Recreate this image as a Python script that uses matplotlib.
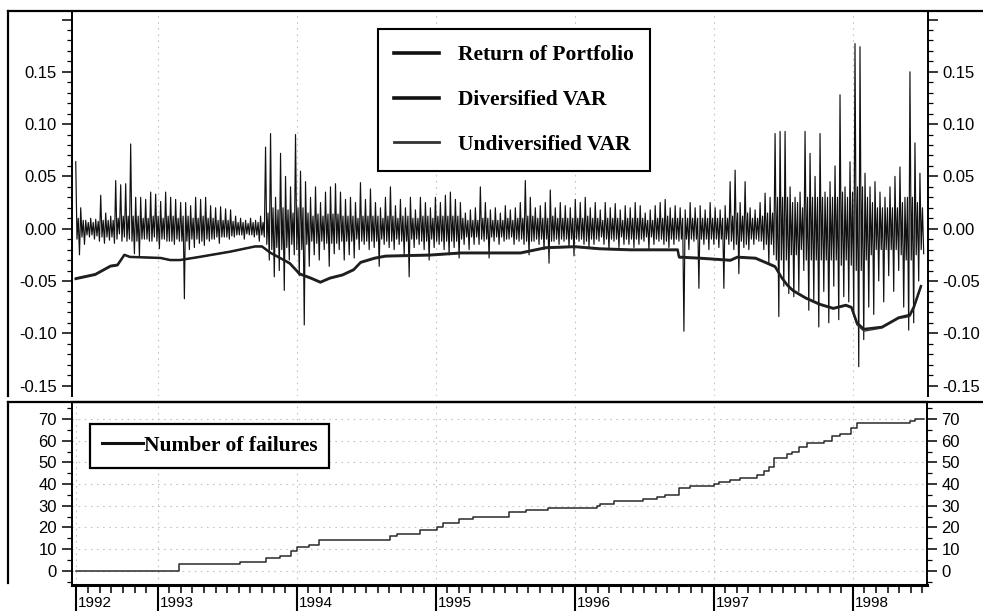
import matplotlib.pyplot as plt
import numpy as np
from matplotlib.lines import Line2D
from matplotlib.transforms import ScaledTranslation

# ---- data ----
# returns: high / low spike of the daily return band in ~5px columns (June 1992 - July 1998)
ret_high = [0.064, 0.020, 0.008, 0.010, 0.009, 0.032, 0.015, 0.012, 0.046, 0.042,
            0.043, 0.081, 0.030, 0.030, 0.028, 0.035, 0.033, 0.026, 0.035, 0.030,
            0.028, 0.025, 0.025, 0.022, 0.030, 0.028, 0.030, 0.022, 0.020, 0.021,
            0.019, 0.018, 0.012, 0.010, 0.008, 0.010, 0.008, 0.012, 0.078, 0.091,
            0.030, 0.072, 0.050, 0.040, 0.090, 0.055, 0.045, 0.030, 0.040, 0.025,
            0.035, 0.040, 0.043, 0.035, 0.028, 0.030, 0.025, 0.044, 0.028, 0.038,
            0.025, 0.020, 0.030, 0.040, 0.022, 0.028, 0.020, 0.030, 0.018, 0.030,
            0.025, 0.020, 0.030, 0.025, 0.032, 0.035, 0.028, 0.025, 0.015, 0.018,
            0.020, 0.040, 0.025, 0.018, 0.020, 0.015, 0.022, 0.018, 0.020, 0.025,
            0.046, 0.030, 0.020, 0.022, 0.025, 0.037, 0.020, 0.025, 0.022, 0.020,
            0.028, 0.025, 0.030, 0.020, 0.025, 0.018, 0.025, 0.020, 0.024, 0.018,
            0.022, 0.020, 0.025, 0.022, 0.015, 0.018, 0.022, 0.025, 0.028, 0.020,
            0.022, 0.020, 0.018, 0.025, 0.020, 0.022, 0.018, 0.025, 0.020, 0.018,
            0.022, 0.045, 0.056, 0.025, 0.045, 0.020, 0.018, 0.025, 0.034, 0.030,
            0.091, 0.093, 0.093, 0.040, 0.030, 0.035, 0.093, 0.072, 0.050, 0.091,
            0.035, 0.045, 0.060, 0.128, 0.040, 0.064, 0.177, 0.174, 0.053, 0.040,
            0.045, 0.035, 0.030, 0.040, 0.050, 0.059, 0.030, 0.150, 0.082, 0.053]
ret_low = [-0.025, -0.015, -0.008, -0.010, -0.012, -0.014, -0.011, -0.014, -0.005, -0.008,
           -0.010, -0.024, -0.027, -0.010, -0.012, -0.008, -0.019, -0.010, -0.012, -0.015,
           -0.012, -0.067, -0.020, -0.018, -0.014, -0.016, -0.012, -0.010, -0.014, -0.008,
           -0.010, -0.008, -0.006, -0.010, -0.006, -0.008, -0.012, -0.008, -0.030, -0.046,
           -0.040, -0.059, -0.030, -0.025, -0.045, -0.092, -0.036, -0.025, -0.030, -0.020,
           -0.036, -0.024, -0.020, -0.030, -0.025, -0.028, -0.020, -0.015, -0.020, -0.018,
           -0.036, -0.015, -0.018, -0.020, -0.015, -0.025, -0.046, -0.018, -0.015, -0.020,
           -0.030, -0.018, -0.015, -0.020, -0.025, -0.018, -0.028, -0.015, -0.020, -0.015,
           -0.015, -0.012, -0.028, -0.012, -0.015, -0.012, -0.010, -0.015, -0.012, -0.015,
           -0.025, -0.012, -0.015, -0.020, -0.033, -0.012, -0.015, -0.012, -0.018, -0.026,
           -0.012, -0.015, -0.018, -0.015, -0.012, -0.015, -0.020, -0.012, -0.018, -0.015,
           -0.015, -0.018, -0.015, -0.012, -0.020, -0.015, -0.012, -0.015, -0.018, -0.015,
           -0.012, -0.098, -0.020, -0.012, -0.057, -0.015, -0.020, -0.015, -0.018, -0.057,
           -0.015, -0.020, -0.043, -0.018, -0.020, -0.015, -0.012, -0.020, -0.033, -0.025,
           -0.084, -0.055, -0.062, -0.065, -0.060, -0.040, -0.078, -0.068, -0.094, -0.060,
           -0.090, -0.055, -0.087, -0.065, -0.070, -0.080, -0.132, -0.106, -0.075, -0.082,
           -0.050, -0.070, -0.045, -0.060, -0.040, -0.075, -0.097, -0.090, -0.050, -0.024]
# half-width of the dense dark core of the band, same columns
ret_core = [0.010, 0.008, 0.006, 0.006, 0.007, 0.008, 0.008, 0.008, 0.010, 0.012,
            0.012, 0.012, 0.012, 0.010, 0.010, 0.012, 0.012, 0.010, 0.012, 0.012,
            0.010, 0.012, 0.012, 0.010, 0.010, 0.012, 0.010, 0.010, 0.008, 0.008,
            0.008, 0.007, 0.006, 0.006, 0.005, 0.006, 0.006, 0.006, 0.015, 0.020,
            0.018, 0.020, 0.018, 0.015, 0.020, 0.020, 0.015, 0.012, 0.014, 0.012,
            0.014, 0.014, 0.014, 0.012, 0.012, 0.012, 0.010, 0.012, 0.012, 0.012,
            0.012, 0.010, 0.012, 0.012, 0.010, 0.012, 0.012, 0.010, 0.010, 0.012,
            0.012, 0.010, 0.012, 0.012, 0.012, 0.012, 0.012, 0.010, 0.008, 0.008,
            0.008, 0.010, 0.010, 0.008, 0.008, 0.008, 0.010, 0.008, 0.010, 0.010,
            0.012, 0.012, 0.010, 0.010, 0.010, 0.012, 0.010, 0.010, 0.010, 0.010,
            0.010, 0.010, 0.012, 0.010, 0.010, 0.008, 0.010, 0.010, 0.010, 0.008,
            0.010, 0.010, 0.010, 0.010, 0.008, 0.008, 0.010, 0.010, 0.012, 0.010,
            0.010, 0.010, 0.010, 0.010, 0.010, 0.010, 0.010, 0.010, 0.010, 0.010,
            0.010, 0.012, 0.015, 0.012, 0.015, 0.010, 0.010, 0.012, 0.015, 0.015,
            0.030, 0.030, 0.030, 0.025, 0.025, 0.020, 0.030, 0.030, 0.030, 0.030,
            0.030, 0.030, 0.030, 0.035, 0.030, 0.035, 0.040, 0.040, 0.030, 0.025,
            0.020, 0.020, 0.020, 0.020, 0.020, 0.025, 0.030, 0.030, 0.025, 0.020]
ret_start, ret_end = 1992.41, 1998.51

# VaR lines (decimal year, value)
var_years = [1992.41, 1992.55, 1992.66, 1992.71, 1992.76, 1992.80, 1993.02, 1993.09,
             1993.16, 1993.30, 1993.52, 1993.70, 1993.75, 1993.81, 1993.88, 1993.95,
             1994.02, 1994.10, 1994.17, 1994.24, 1994.33, 1994.41, 1994.46, 1994.56,
             1994.64, 1994.96, 1995.18, 1995.61, 1995.79, 1996.00, 1996.18, 1996.40,
             1996.74, 1996.75, 1996.90, 1997.12, 1997.17, 1997.30, 1997.37, 1997.44,
             1997.49, 1997.53, 1997.57, 1997.66, 1997.76, 1997.86, 1997.95, 1997.99,
             1998.03, 1998.08, 1998.21, 1998.33, 1998.41, 1998.44, 1998.49]
div_var = [-0.048, -0.044, -0.036, -0.035, -0.025, -0.027, -0.028, -0.030,
           -0.030, -0.027, -0.022, -0.017, -0.017, -0.023, -0.028, -0.033,
           -0.043, -0.047, -0.051, -0.047, -0.044, -0.039, -0.032, -0.028,
           -0.026, -0.025, -0.023, -0.023, -0.018, -0.017, -0.019, -0.020,
           -0.020, -0.027, -0.028, -0.030, -0.027, -0.028, -0.032, -0.036,
           -0.047, -0.054, -0.059, -0.066, -0.072, -0.076, -0.073, -0.075,
           -0.090, -0.096, -0.094, -0.085, -0.0825, -0.0745, -0.055]
undiv_var = [-0.047, -0.043, -0.035, -0.034, -0.025, -0.027, -0.028, -0.030,
             -0.030, -0.027, -0.022, -0.017, -0.017, -0.023, -0.028, -0.034,
             -0.044, -0.048, -0.052, -0.048, -0.045, -0.040, -0.033, -0.029,
             -0.027, -0.026, -0.024, -0.024, -0.019, -0.018, -0.020, -0.021,
             -0.021, -0.028, -0.029, -0.031, -0.028, -0.029, -0.033, -0.037,
             -0.048, -0.055, -0.060, -0.067, -0.073, -0.077, -0.074, -0.076,
             -0.092, -0.098, -0.095, -0.086, -0.084, -0.076, -0.056]

# cumulative number of failures (step starts)
fail_years = [1992.41, 1993.15, 1993.59, 1993.78, 1993.88, 1993.96, 1994.00, 1994.09,
              1994.16, 1994.67, 1994.72, 1994.89, 1995.01, 1995.05, 1995.17, 1995.27,
              1995.53, 1995.65, 1995.81, 1996.16, 1996.18, 1996.28, 1996.49, 1996.59,
              1996.65, 1996.75, 1996.83, 1997.00, 1997.04, 1997.12, 1997.19, 1997.31,
              1997.36, 1997.40, 1997.43, 1997.53, 1997.56, 1997.61, 1997.67, 1997.79,
              1997.85, 1997.91, 1997.99, 1998.03, 1998.41, 1998.45, 1998.51]
fail_count = [0, 3, 4, 6, 7, 9, 11, 12,
              14, 16, 17, 19, 20, 22, 24, 25,
              27, 28, 29, 30, 31, 32, 33, 34,
              35, 38, 39, 40, 41, 42, 43, 44,
              46, 48, 52, 54, 55, 57, 59, 60,
              62, 63, 66, 68, 69, 70, 70]

year_ticks = [1992.41, 1993, 1994, 1995, 1996, 1997, 1998]
year_labels = ["1992", "1993", "1994", "1995", "1996", "1997", "1998"]

# ---- figure ----
W, H = 983, 611
fig = plt.figure(figsize=(W / 100, H / 100), dpi=100)
plt.rcParams['font.family'] = ['Liberation Sans', 'DejaVu Sans']


def px(x0, y0, x1, y1):
    return [x0 / W, 1 - y1 / H, (x1 - x0) / W, (y1 - y0) / H]


ax1 = fig.add_axes(px(71.7, 12, 928, 396))
ax2 = fig.add_axes(px(71.7, 402, 926.7, 584.5))

# top panel
ret_y = np.ravel(np.column_stack([ret_high, -np.array(ret_core), ret_core, ret_low]))
ret_x = np.linspace(ret_start, ret_end, len(ret_y))
ax1.plot(ret_x, ret_y, color='#111111', lw=0.85, zorder=2)
ax1.plot(var_years, undiv_var, color='#3a3a3a', lw=1.0, zorder=3)
ax1.plot(var_years, div_var, color='#1e1e1e', lw=1.8, zorder=4)

ax1.set_xlim(1992.381, 1998.541)
ax1.set_ylim(-0.160, 0.2072)
ax1.set_yticks([-0.15, -0.10, -0.05, 0.0, 0.05, 0.10, 0.15, 0.20])
ax1.set_yticklabels(["-0.15", "-0.10", "-0.05", "0.00", "0.05", "0.10", "0.15", ""])
ax1.set_yticks(np.arange(-0.15, 0.2001, 0.01), minor=True)
ax1.set_xticks(year_ticks[1:])
ax1.tick_params(axis='x', which='both', bottom=False, labelbottom=False)
ax1.tick_params(axis='y', which='both', left=True, right=True, labelleft=True,
                labelright=True, direction='out', labelsize=12, pad=3)
ax1.tick_params(axis='y', which='major', length=7.5, width=1.1)
ax1.tick_params(axis='y', which='minor', length=3.5, width=0.9)
ax1.grid(axis='x', color='#c4c4c4', linestyle=(0, (1.5, 4)), lw=0.8)
for s in ['top', 'bottom']:
    ax1.spines[s].set_visible(False)
for s in ['left', 'right']:
    ax1.spines[s].set_linewidth(1.4)

handles = [Line2D([], [], color='#111111', lw=2.6),
           Line2D([], [], color='#111111', lw=2.6),
           Line2D([], [], color='#333333', lw=2.0)]
leg1 = ax1.legend(handles, ["Return of Portfolio", "Diversified VAR", "Undiversified VAR"],
                  loc='upper left', bbox_to_anchor=((378 - 71.7) / 856.3, 1 - (29 - 12) / 384),
                  borderaxespad=0, fancybox=False, edgecolor='black', framealpha=1,
                  prop={'family': 'Liberation Serif', 'weight': 'bold', 'size': 15.5},
                  handlelength=2.1, handletextpad=0.85, labelspacing=1.15, borderpad=0.75)
leg1.get_frame().set_linewidth(1.5)

# bottom panel
ax2.plot(fail_years, fail_count, color='#2a2a2a', lw=1.1, drawstyle='steps-post')
ax2.set_xlim(1992.381, 1998.532)
ax2.set_ylim(-6.37, 77.85)
ax2.set_yticks(range(0, 71, 10))
ax2.set_yticks(range(-5, 76, 5), minor=True)
ax2.tick_params(axis='y', which='both', left=True, right=True, labelleft=True,
                labelright=True, direction='out', labelsize=12, pad=3)
ax2.tick_params(axis='y', which='major', length=7.5, width=1.1)
ax2.tick_params(axis='y', which='minor', length=3.5, width=0.9)
ax2.grid(True, color='#c4c4c4', linestyle=(0, (1.5, 4)), lw=0.8)

months = [1992 + m / 12 for m in range(6, 79) if m % 12 != 0]
ax2.set_xticks(year_ticks)
ax2.set_xticklabels(year_labels)
ax2.set_xticks(months, minor=True)
ax2.tick_params(axis='x', which='major', direction='out', length=19, width=1.5,
                labelsize=11, pad=-10.5)
ax2.tick_params(axis='x', which='minor', direction='out', length=5.8, width=1.1)
for lab in ax2.get_xticklabels():
    lab.set_ha('left')
    lab.set_transform(lab.get_transform() + ScaledTranslation(2 / 100, 0, fig.dpi_scale_trans))
ax2.spines['bottom'].set_linewidth(2.2)
ax2.spines['top'].set_linewidth(1.6)
for s in ['left', 'right']:
    ax2.spines[s].set_linewidth(1.4)

leg2 = ax2.legend([Line2D([], [], color='#111111', lw=2.2)], ["Number of failures"],
                  loc='upper left', bbox_to_anchor=((90 - 71.7) / 855, 1 - (424 - 402) / 182.5),
                  borderaxespad=0, fancybox=False, edgecolor='black', framealpha=1,
                  prop={'family': 'Liberation Serif', 'weight': 'bold', 'size': 15.5},
                  handlelength=1.9, handletextpad=0.05, borderpad=0.55)
leg2.get_frame().set_linewidth(1.6)


# outer frame lines
def fline(xs, ys, lw=1.5):
    fig.add_artist(Line2D([x / W for x in xs], [1 - y / H for y in ys],
                          transform=fig.transFigure, color='black', lw=lw))


fline([8, 983], [11, 11], 1.6)
fline([8, 8], [11, 396], 1.6)
fline([8, 983], [402, 402], 1.6)
fline([8, 8], [402, 583], 1.6)

fig.savefig("out.png", dpi=100)
